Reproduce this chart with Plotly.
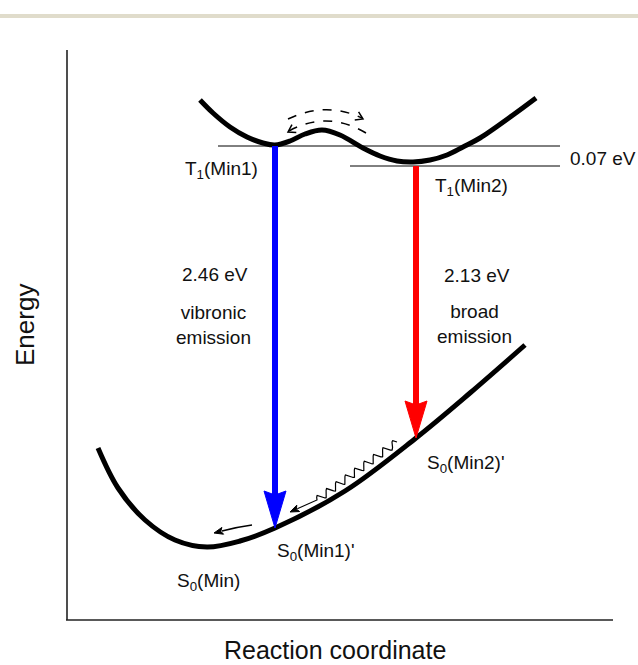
import numpy as np
import plotly.graph_objects as go

W, H = 638, 665

# ---- schematic data (x to the right, y downward, figure units) ----
t1_x = [200, 213, 230, 247, 263, 275, 290, 305, 322, 340, 363, 380, 397, 413, 430, 447, 463, 480, 513, 536]
t1_y = [100, 113, 127, 137, 143, 145, 141, 134, 130, 135, 148, 156, 161, 162, 160, 155, 147, 138, 115, 98]

s0_x = [98, 118, 145, 175, 207, 240, 275, 345, 416, 470, 525]
s0_y = [448, 488, 520, 540, 547, 541, 528, 491, 438, 393, 345]

ref_y = [146, 166]
ref_x0 = [218, 350]
ref_x1 = [560, 560]

em_x = [275, 416]
em_top = [146, 166]
em_tip = [528, 438]
em_color = ["#0000ff", "#ff0000"]

labels = [
    ("T<sub>1</sub>(Min1)", 221, 170, "center"),
    ("T<sub>1</sub>(Min2)", 471, 187, "center"),
    ("0.07 eV", 568, 158, "left"),
    ("2.46 eV", 215, 274, "center"),
    ("vibronic<br>emission", 213, 325, "center"),
    ("2.13 eV", 477, 275, "center"),
    ("broad<br>emission", 474, 324, "center"),
    ("S<sub>0</sub>(Min2)'", 466, 464, "center"),
    ("S<sub>0</sub>(Min1)'", 316, 552, "center"),
    ("S<sub>0</sub>(Min)", 208, 582, "center"),
]

FONT = "Liberation Sans, Arial, sans-serif"


def head(tx, ty, dx, dy, L, w, notch=0.0, open_=False):
    n = np.hypot(dx, dy)
    ux, uy = dx / n, dy / n
    px, py = -uy, ux
    bx, by = tx - L * ux, ty - L * uy
    p1 = (bx + w * px, by + w * py)
    p2 = (bx - w * px, by - w * py)
    if open_:
        return f"M{p1[0]:.2f},{p1[1]:.2f} L{tx:.2f},{ty:.2f} L{p2[0]:.2f},{p2[1]:.2f}"
    nb = (bx + notch * ux, by + notch * uy)
    return (f"M{tx:.2f},{ty:.2f} L{p1[0]:.2f},{p1[1]:.2f} L{nb[0]:.2f},{nb[1]:.2f} "
            f"L{p2[0]:.2f},{p2[1]:.2f} Z")


fig = go.Figure()
shapes = []

# top decorative band
shapes.append(dict(type="rect", xref="paper", yref="y", x0=0, x1=1, y0=14, y1=18,
                   fillcolor="#e0dccb", line=dict(width=0), layer="below"))

# axes
shapes.append(dict(type="line", x0=67, x1=67, y0=50, y1=620, line=dict(color="#222", width=1.6)))
shapes.append(dict(type="line", x0=66, x1=613, y0=620, y1=620, line=dict(color="#222", width=1.6)))

# reference lines
for y, a, b in zip(ref_y, ref_x0, ref_x1):
    shapes.append(dict(type="line", x0=a, x1=b, y0=y, y1=y, line=dict(color="#000", width=1)))

# potential curves
fig.add_trace(go.Scatter(x=t1_x, y=t1_y, mode="lines", line=dict(color="#000", width=5, shape="spline"),
                         hoverinfo="skip"))
fig.add_trace(go.Scatter(x=s0_x, y=s0_y, mode="lines", line=dict(color="#000", width=5, shape="spline"),
                         hoverinfo="skip"))

# emission arrows
HL, HW = 37, 11
for x, top, tip, c in zip(em_x, em_top, em_tip, em_color):
    shapes.append(dict(type="line", x0=x, x1=x, y0=top, y1=tip - HL + 4, line=dict(color=c, width=6)))
    shapes.append(dict(type="path", path=head(x, tip, 0, 1, HL, HW, notch=4), fillcolor=c,
                       line=dict(color=c, width=1)))

# dashed interconversion arcs (quadratic curves)
shapes.append(dict(type="path", path="M288,119 Q326,101 362,118", line=dict(color="#000", width=1.5, dash="dash")))
shapes.append(dict(type="path", path=head(363, 119, 362 - 326, 118 - 101, 7, 4.5, open_=True),
                   line=dict(color="#000", width=1.5)))
shapes.append(dict(type="path", path="M366,133 Q327,110 289,131", line=dict(color="#000", width=1.5, dash="dash")))
shapes.append(dict(type="path", path=head(288, 132, 289 - 327, 131 - 110, 7, 4.5, open_=True),
                   line=dict(color="#000", width=1.5)))

# vibrational relaxation (wavy arrow)
ws = np.array([397.0, 442.0])
we = np.array([317.0, 500.0])
tip = np.array([290.0, 512.0])
t = np.linspace(0, 1, 600)
d = we - ws
u = d / np.linalg.norm(d)
p = np.array([-u[1], u[0]])
wave = ws[None, :] + t[:, None] * d[None, :] + (3.6 * np.sin(2 * np.pi * 8.5 * t))[:, None] * p[None, :]
dt = tip - we
ut = dt / np.linalg.norm(dt)
base = tip - 8 * ut
wx = list(wave[:, 0]) + [base[0]]
wy = list(wave[:, 1]) + [base[1]]
fig.add_trace(go.Scatter(x=wx, y=wy, mode="lines", line=dict(color="#000", width=1.2), hoverinfo="skip"))
shapes.append(dict(type="path", path=head(tip[0], tip[1], dt[0], dt[1], 9, 3.5, notch=2),
                   fillcolor="#000", line=dict(color="#000", width=1)))

# small relaxation arrow near S0(Min)
shapes.append(dict(type="path", path="M252,525 Q237,527 222,531", line=dict(color="#000", width=1.3)))
shapes.append(dict(type="path", path=head(214, 533, -1, 0.25, 9, 3.5, notch=2),
                   fillcolor="#000", line=dict(color="#000", width=1)))

annotations = []
for txt, x, y, anc in labels:
    annotations.append(dict(x=x, y=y, text=txt, showarrow=False, xanchor=anc, yanchor="middle",
                            align="center", font=dict(family=FONT, size=19, color="#111")))
annotations.append(dict(x=25, y=325, text="Energy", showarrow=False, textangle=-90,
                        xanchor="center", yanchor="middle", font=dict(family=FONT, size=26, color="#111")))
annotations.append(dict(x=335, y=650, text="Reaction coordinate", showarrow=False,
                        xanchor="center", yanchor="middle", font=dict(family=FONT, size=25, color="#111")))

fig.update_layout(
    width=W, height=H, margin=dict(l=0, r=0, t=0, b=0, pad=0),
    paper_bgcolor="white", plot_bgcolor="white", showlegend=False,
    xaxis=dict(range=[0, W], visible=False, fixedrange=True),
    yaxis=dict(range=[H, 0], visible=False, fixedrange=True),
    shapes=shapes, annotations=annotations,
)

fig.write_html(
    "out.html",
    config={"displayModeBar": False},
    post_script="document.body.style.margin='0';document.body.style.overflow='hidden';",
)
